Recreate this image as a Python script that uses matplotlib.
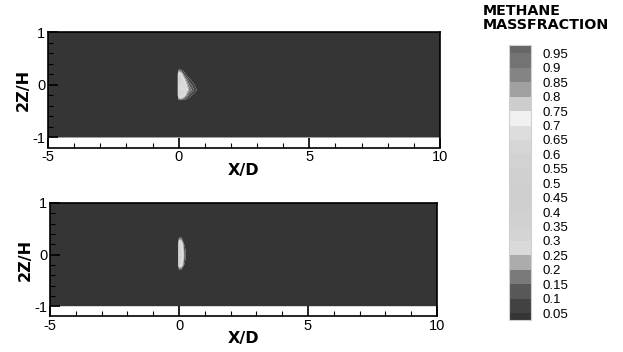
import numpy as np
import matplotlib
matplotlib.use("Agg")
import matplotlib.pyplot as plt
from matplotlib.colors import ListedColormap, BoundaryNorm
from matplotlib.ticker import MultipleLocator

# ---- data ----
levels = [round(0.05 * i, 2) for i in range(21)]  # 0 .. 1.0
tick_levels = levels[1:-1]                         # 0.05 .. 0.95
band_gray = [53, 66, 88, 122, 172, 218, 212, 209, 207, 207,
             208, 210, 214, 221, 240, 205, 160, 132, 115, 102]

# top plume (case 1)
x1 = [-5.0, -0.04, 0.0, 0.1, 0.2, 0.3, 0.4, 0.5, 0.6, 0.7, 0.8, 10.0]
z1 = [-1.0, -0.3, -0.2, -0.1, 0.0, 0.1, 0.2, 0.3, 1.0]
c1 = [
    [0, 0, 0.00, 0.00, 0.00, 0.00, 0.00, 0.00, 0.00, 0.00, 0, 0],
    [0, 0, 0.00, 0.00, 0.00, 0.00, 0.00, 0.00, 0.00, 0.00, 0, 0],
    [0, 0, 0.50, 0.55, 0.35, 0.18, 0.10, 0.05, 0.02, 0.00, 0, 0],
    [0, 0, 0.55, 0.62, 0.50, 0.30, 0.20, 0.15, 0.10, 0.05, 0, 0],
    [0, 0, 0.45, 0.60, 0.45, 0.25, 0.15, 0.10, 0.05, 0.02, 0, 0],
    [0, 0, 0.50, 0.50, 0.30, 0.15, 0.07, 0.03, 0.00, 0.00, 0, 0],
    [0, 0, 0.45, 0.30, 0.10, 0.03, 0.00, 0.00, 0.00, 0.00, 0, 0],
    [0, 0, 0.00, 0.00, 0.00, 0.00, 0.00, 0.00, 0.00, 0.00, 0, 0],
    [0, 0, 0.00, 0.00, 0.00, 0.00, 0.00, 0.00, 0.00, 0.00, 0, 0],
]

# bottom plume (case 2)
x2 = [-5.0, -0.04, 0.0, 0.1, 0.2, 0.3, 10.0]
z2 = [-1.0, -0.3, -0.2, -0.1, 0.0, 0.1, 0.2, 0.35, 1.0]
c2 = [
    [0, 0, 0.00, 0.00, 0.00, 0, 0],
    [0, 0, 0.00, 0.00, 0.00, 0, 0],
    [0, 0, 0.45, 0.35, 0.05, 0, 0],
    [0, 0, 0.55, 0.50, 0.10, 0, 0],
    [0, 0, 0.40, 0.55, 0.12, 0, 0],
    [0, 0, 0.55, 0.50, 0.10, 0, 0],
    [0, 0, 0.55, 0.40, 0.05, 0, 0],
    [0, 0, 0.00, 0.00, 0.00, 0, 0],
    [0, 0, 0.00, 0.00, 0.00, 0, 0],
]

x_ticks = [-5, 0, 5, 10]
y_ticks = [-1, 0, 1]
cbar_title = "METHANE\nMASSFRACTION"

# ---- style ----
colors = [(g / 255, g / 255, g / 255) for g in band_gray]
cmap = ListedColormap(colors)
norm = BoundaryNorm(levels, cmap.N)

tick_font = dict(family="Liberation Sans", size=10.5)
lab_font = dict(family="DejaVu Sans", size=11.5, weight="bold")

fig = plt.figure(figsize=(6.23, 3.52), dpi=100)

ax_pos = [
    [48 / 623, (352 - 147.5) / 352, 392 / 623, 115.5 / 352],
    [50 / 623, (352 - 316) / 352, 387 / 623, 113 / 352],
]
fields = [(x1, z1, c1), (x2, z2, c2)]

for pos, (xs, zs, cs) in zip(ax_pos, fields):
    ax = fig.add_axes(pos)
    ax.set_facecolor("white")
    X, Z = np.meshgrid(xs, zs)
    ax.contourf(X, Z, np.array(cs), levels=levels, cmap=cmap, norm=norm,
                antialiased=True)
    ax.set_xlim(-5, 10)
    ax.set_ylim(-1.19, 1)
    ax.set_xticks(x_ticks)
    ax.set_yticks(y_ticks)
    ax.xaxis.set_minor_locator(MultipleLocator(1))
    ax.yaxis.set_minor_locator(MultipleLocator(0.2))
    ax.tick_params(which="major", direction="in", length=7, width=1.2,
                   top=False, right=False, pad=2)
    ax.tick_params(which="minor", direction="in", length=3.5, width=0.8,
                   top=False, right=False)
    ax.set_xticklabels([str(v) for v in x_ticks], **tick_font)
    ax.set_yticklabels([str(v) for v in y_ticks], **tick_font)
    for s in ax.spines.values():
        s.set_linewidth(1.2)
    ax.set_xlabel("X/D", labelpad=-1, **lab_font)
    ax.set_ylabel("2Z/H", labelpad=1, **lab_font)

# colorbar drawn by hand
cax = fig.add_axes([509 / 623, (352 - 320) / 352, 22 / 623, 275 / 352])
cax.pcolormesh([0, 1], levels, np.array(levels[:-1]).reshape(-1, 1) + 0.025,
               cmap=cmap, norm=norm, shading="flat")
cax.set_ylim(0.026, 0.979)
cax.set_xlim(0, 1)
cax.set_xticks([])
cax.yaxis.tick_right()
cax.set_yticks(tick_levels)
cax.set_yticklabels([f"{v:g}" for v in tick_levels],
                    family="Liberation Sans", size=9.5)
cax.tick_params(axis="y", length=0, pad=8)
for s in cax.spines.values():
    s.set_edgecolor("#d0d0d0")
    s.set_linewidth(0.8)

fig.text(483 / 623, 1 - 4 / 352, cbar_title, ha="left", va="top",
         family="DejaVu Sans", size=10.3, weight="bold", linespacing=1.0)

fig.savefig("out.png", dpi=100)
